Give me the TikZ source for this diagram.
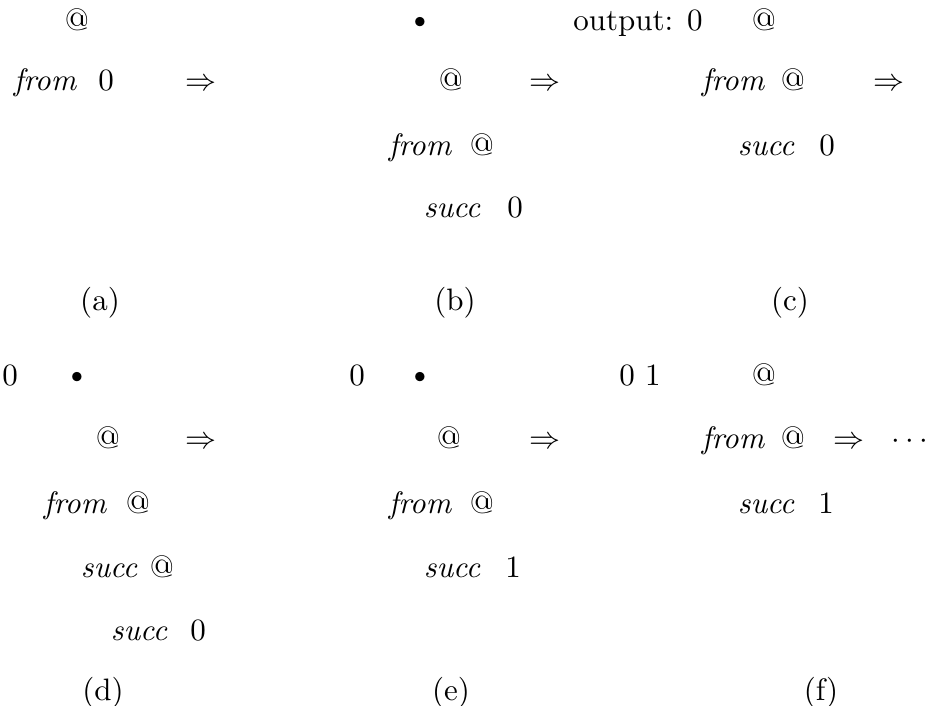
\documentclass[tikz,border=0pt]{standalone}
\usepackage{tikz}
\usetikzlibrary{positioning}

\tikzset{
  term/.style={anchor=base, inner sep=0pt, font=\fontsize{10}{12}\selectfont, scale=3.1},
  fun/.style={term, font=\fontsize{10}{12}\selectfont\itshape},
}

\begin{document}
\begin{tikzpicture}[x=1pt, y=-1pt]
\useasboundingbox (0,0) rectangle (937,705);
% top row: (a) (b) (c)
\node[term] (a-app) at (77,30) {@};
\node[fun]  (a-from) at (45,90) {from};
\node[term] (a-zero) at (106,90) {0};
\node[term] (a-step) at (201,90) {$\Rightarrow$};
\node[term] (a-cap) at (100,310) {(a)};

\node[term] (b-dot) at (420,27) {$\scriptstyle\bullet$};
\node[term] (b-app) at (451,90) {@};
\node[term] (b-step) at (545,90) {$\Rightarrow$};
\node[fun]  (b-from) at (420,155) {from};
\node[term] (b-app2) at (482,155) {@};
\node[fun]  (b-succ) at (452,217) {succ};
\node[term] (b-zero) at (515,217) {0};
\node[term] (b-cap) at (455,310) {(b)};

\node[term] (c-out) at (638,30) {output: 0};
\node[term] (c-app) at (764,30) {@};
\node[fun]  (c-from) at (733,90) {from};
\node[term] (c-app2) at (793,90) {@};
\node[term] (c-step) at (889,90) {$\Rightarrow$};
\node[fun]  (c-succ) at (766,155) {succ};
\node[term] (c-zero) at (827,155) {0};
\node[term] (c-cap) at (790,310) {(c)};

% bottom row: (d) (e) (f)
\node[term] (d-out) at (10,385) {0};
\node[term] (d-dot) at (77,382) {$\scriptstyle\bullet$};
\node[term] (d-app) at (108,448) {@};
\node[term] (d-step) at (201,448) {$\Rightarrow$};
\node[fun]  (d-from) at (75,513) {from};
\node[term] (d-app2) at (138,513) {@};
\node[fun]  (d-succ) at (109,577) {succ};
\node[term] (d-app3) at (162,577) {@};
\node[fun]  (d-succ2) at (139,640) {succ};
\node[term] (d-zero) at (198,640) {0};
\node[term] (d-cap) at (103,700) {(d)};

\node[term] (e-out) at (357,385) {0};
\node[term] (e-dot) at (420,382) {$\scriptstyle\bullet$};
\node[term] (e-app) at (449,448) {@};
\node[term] (e-step) at (545,448) {$\Rightarrow$};
\node[fun]  (e-from) at (420,513) {from};
\node[term] (e-app2) at (482,513) {@};
\node[fun]  (e-succ) at (452,577) {succ};
\node[term] (e-one) at (513,577) {1};
\node[term] (e-cap) at (451,700) {(e)};

\node[term] (f-out) at (640,385) {0 1};
\node[term] (f-app) at (764,385) {@};
\node[fun]  (f-from) at (733,448) {from};
\node[term] (f-app2) at (793,448) {@};
\node[term] (f-step) at (849,448) {$\Rightarrow$};
\node[term] (f-more) at (910,448) {$\cdots$};
\node[fun]  (f-succ) at (766,513) {succ};
\node[term] (f-one) at (826,513) {1};
\node[term] (f-cap) at (821,700) {(f)};
\end{tikzpicture}
\end{document}
